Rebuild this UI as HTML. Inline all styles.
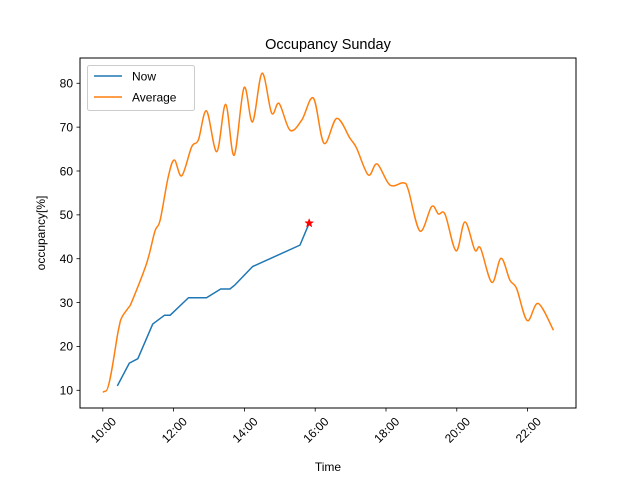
<!DOCTYPE html>
<html><head><meta charset="utf-8"><style>
body{margin:0;background:#fff}
svg{display:block;font-family:"Liberation Sans","DejaVu Sans",sans-serif}
</style></head><body>
<svg id="chart" width="640" height="480" viewBox="0 0 640 480" xmlns="http://www.w3.org/2000/svg">
<rect width="640" height="480" fill="#fff"/>
<text x="328" y="49" font-size="14.5" text-anchor="middle">Occupancy Sunday</text>
<g id="marks"></g>
<g id="axes"></g>
<rect x="80" y="58" width="496" height="350" fill="none" stroke="#000" stroke-width="1"/>
<text x="328" y="471" font-size="12" text-anchor="middle">Time</text>
<text transform="translate(45,233) rotate(-90)" font-size="12" text-anchor="middle">occupancy[%]</text>
<g>
<rect x="87.5" y="65.5" width="107" height="45" rx="2" fill="#fff" fill-opacity="0.8" stroke="#ccc"/>
<line x1="94" y1="76" x2="122" y2="76" stroke="#1f77b4" stroke-width="1.5"/>
<text x="132" y="80.5" font-size="12">Now</text>
<line x1="94" y1="97" x2="122" y2="97" stroke="#ff7f0e" stroke-width="1.5"/>
<text x="132" y="101.5" font-size="12">Average</text>
</g>
</svg>
<script>
const avgHours=[10.0,10.08,10.44,10.53,10.72,10.82,11.24,11.47,11.62,11.85,12.02,12.23,12.51,12.70,12.93,13.22,13.47,13.71,13.99,14.23,14.50,14.77,14.98,15.29,15.62,15.95,16.25,16.61,16.98,17.17,17.50,17.75,18.11,18.49,18.63,18.96,19.29,19.48,19.67,19.98,20.23,20.51,20.67,20.99,21.25,21.50,21.69,21.99,22.30,22.73];
const avgValues=[9.6,9.8,23.7,26.5,28.8,30.2,39.0,46.2,48.8,58.7,62.5,58.9,65.5,67.1,73.7,64.4,75.2,63.6,79.0,71.2,82.3,73.2,75.4,69.3,71.6,76.6,66.3,72.0,67.5,65.2,59.1,61.6,56.8,57.3,55.7,46.3,51.9,50.2,50.1,41.8,48.4,42.0,42.4,34.6,40.1,35.1,33.2,25.9,29.8,23.7];
const nowHours=[10.41,10.75,10.99,11.41,11.74,11.90,12.42,12.93,13.33,13.59,13.73,14.23,15.57,15.83];
const nowValues=[11.0,16.2,17.2,25.1,27.1,27.1,31.1,31.1,33.1,33.1,34.0,38.2,43.1,48.1];
const currentPoint=[15.83,48.1];
const xTickHours=[10,12,14,16,18,20,22];
const xTickLabels=["10:00","12:00","14:00","16:00","18:00","20:00","22:00"];
const yTicks=[10,20,30,40,50,60,70,80];

const NS="http://www.w3.org/2000/svg";
function xs(h){return 102.8+(h-10)*35.4;}
function ys(v){return 390.3-(v-10)*4.386;}
const marks=document.getElementById('marks'), axes=document.getElementById('axes');
function mk(tag,attrs,parent){const e=document.createElementNS(NS,tag);for(const k in attrs)e.setAttribute(k,attrs[k]);parent.appendChild(e);return e;}

xTickHours.forEach((h,i)=>{
  const x=xs(h);
  const t=mk('line',{x1:x,y1:408,x2:x,y2:411.5,stroke:'#000','stroke-width':0.8},axes);
  
  
  const l=mk('text',{transform:`translate(${x+8},${416}) rotate(-45)`,'font-size':12,'text-anchor':'end','dominant-baseline':'hanging'},axes);
  l.textContent=xTickLabels[i];
  
  
});
yTicks.forEach(v=>{
  const y=ys(v);
  const t=mk('line',{x1:76.5,y1:y,x2:80,y2:y,stroke:'#000','stroke-width':0.8},axes);
  
  
  const l=mk('text',{x:73,y:y+4.3,'font-size':12,'text-anchor':'end'},axes);
  l.textContent=v;
  
  
});

const P=avgHours.map((h,i)=>[xs(h),ys(avgValues[i])]);
let d=`M${P[0][0]},${P[0][1]}`;
for(let i=0;i<P.length-1;i++){
  const p0=P[Math.max(i-1,0)],p1=P[i],p2=P[i+1],p3=P[Math.min(i+2,P.length-1)];
  let c1=[p1[0]+(p2[0]-p0[0])/6,p1[1]+(p2[1]-p0[1])/6];
  let c2=[p2[0]-(p3[0]-p1[0])/6,p2[1]-(p3[1]-p1[1])/6];
  if(i===0){c1=[p1[0]+(p2[0]-p1[0])/3,p1[1]];c2=[p2[0]-(p2[0]-p1[0])/3,p2[1]];}
  if(i===1){c1=[p1[0]+(p2[0]-p1[0])/3,p1[1]];}
  d+=` C${c1[0]},${c1[1]} ${c2[0]},${c2[1]} ${p2[0]},${p2[1]}`;
}
const avg=mk('path',{d:d,fill:'none',stroke:'#ff7f0e','stroke-width':1.5,'stroke-linejoin':'round'},marks);



const now=mk('polyline',{points:nowHours.map((h,i)=>xs(h)+','+ys(nowValues[i])).join(' '),fill:'none',stroke:'#1f77b4','stroke-width':1.5,'stroke-linejoin':'round'},marks);



const cx=xs(currentPoint[0]),cy=ys(currentPoint[1]);
let sp=[];
for(let k=0;k<10;k++){const r=k%2?1.9:4.5;const a=-Math.PI/2+k*Math.PI/5;sp.push((cx+r*Math.cos(a)).toFixed(2)+','+(cy+r*Math.sin(a)).toFixed(2));}
const star=mk('polygon',{points:sp.join(' '),fill:'#ff0000',stroke:'#ff0000','stroke-width':0.5},marks);


</script>
</body></html>
